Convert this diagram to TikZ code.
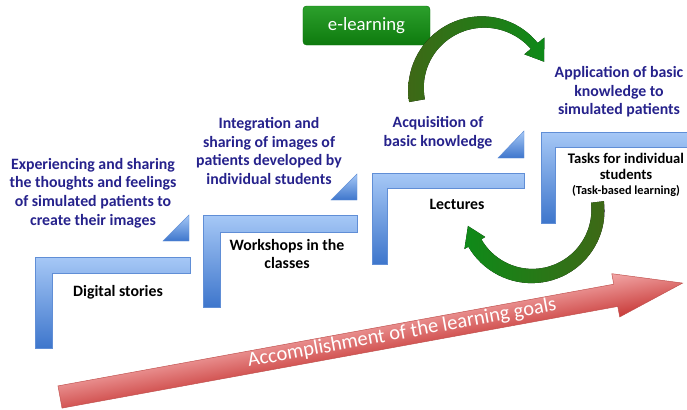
\documentclass[tikz,border=0pt]{standalone}
\usepackage{fontspec}
\setmainfont{Carlito}
\definecolor{stepblue}{RGB}{38,34,140}
\definecolor{barlight}{RGB}{166,200,246}
\definecolor{bardark}{RGB}{62,118,204}
\definecolor{baredge}{RGB}{96,142,214}
\definecolor{leafdark}{RGB}{62,104,22}
\definecolor{leaflight}{RGB}{14,138,24}
\definecolor{goalslight}{RGB}{242,166,166}
\definecolor{goalsdark}{RGB}{200,58,56}
\definecolor{goalsedge}{RGB}{192,80,77}
\definecolor{boxlight}{RGB}{44,160,44}
\definecolor{boxdark}{RGB}{14,122,14}
\tikzset{
  stair/.style={top color=barlight, bottom color=bardark, draw=baredge, line width=0.4pt},
  goaltext/.style={text=stepblue, font=\fontsize{13.5}{15.9}\selectfont\bfseries, align=center, inner sep=0pt},
  stagetext/.style={font=\fontsize{13.5}{14.9}\selectfont\bfseries, align=center, inner sep=0pt},
  elbox/.style={top color=boxlight, bottom color=boxdark, draw=boxdark, rounded corners=3pt,
    minimum width=3.81cm, minimum height=1.17cm, text=white, font=\fontsize{16}{16}\selectfont},
  leaf/.style={left color=leafdark, right color=leaflight}
}
\begin{document}
\begin{tikzpicture}[x=0.03cm,y=-0.03cm]
\useasboundingbox (0,0) rectangle (687,409);
\fill[white] (0,0) rectangle (687,409);

\path[stair] (35,257) -- (190,257) -- (190,273) -- (52,273) -- (52,348) -- (35,348) -- cycle;
\path[stair] (203,215) -- (357,215) -- (357,232) -- (220,232) -- (220,307) -- (203,307) -- cycle;
\path[stair] (372,173) -- (524,173) -- (524,188) -- (387,188) -- (387,264) -- (372,264) -- cycle;
\path[stair] (541,132) -- (695,132) -- (695,147) -- (555,147) -- (555,223) -- (541,223) -- cycle;
\path[stair] (189,215) -- (189,241) -- (163,241) -- cycle;
\path[stair] (357,174) -- (357,200) -- (331,200) -- cycle;
\path[stair] (524,131) -- (524,158) -- (498,158) -- cycle;

\node[goaltext] (feel) at (93,193) {Experiencing and sharing\\the thoughts and feelings\\of simulated patients to\\create their images};
\node[goaltext] (share) at (269,151) {Integration and\\sharing of images of\\patients developed by\\individual students};
\node[goaltext] (acquire) at (438,133) {Acquisition of\\basic knowledge};
\node[goaltext] (apply) at (619,92) {Application of basic\\knowledge to\\simulated patients};

\node[stagetext] (stories) at (118,292) {Digital stories};
\node[stagetext] (workshops) at (287,254) {Workshops in the\\classes};
\node[stagetext] (lectures) at (457,204) {Lectures};
\node[stagetext, font=\fontsize{12.5}{13.2}\selectfont\bfseries] (tasks) at (626,175)
  {Tasks for individual\\students\\{\fontsize{10.5}{13.2}\selectfont(Task-based learning)}};

\node[elbox] (elearn) at (366.5,25.5) {e-learning};

\fill[leaf] plot[domain=170:320,samples=40,variable=\t]
    ({483+(75-3.5*(\t-170)/150)*cos(\t)},{89+(75-3.5*(\t-170)/150)*sin(\t)})
  -- ({483+80*cos(320)},{89+80*sin(320)})
  -- ({483+67*cos(336)},{89+67*sin(336)})
  -- ({483+54*cos(320)},{89+54*sin(320)})
  -- plot[domain=320:170,samples=40,variable=\t]
    ({483+(59+3.5*(\t-170)/150)*cos(\t)},{89+(59+3.5*(\t-170)/150)*sin(\t)})
  -- cycle;
\fill[left color=leaflight, right color=leafdark] plot[domain=-7:150,samples=40,variable=\t]
    ({532+(72.5+1*(\t+7)/157)*cos(\t)},{210+(72.5+1*(\t+7)/157)*sin(\t)})
  -- ({532+78*cos(150)},{210+78*sin(150)})
  -- ({532+66*cos(166)},{210+66*sin(166)})
  -- ({532+54*cos(150)},{210+54*sin(150)})
  -- plot[domain=150:-7,samples=40,variable=\t]
    ({532+(59.5-1*(\t+7)/157)*cos(\t)},{210+(59.5-1*(\t+7)/157)*sin(\t)})
  -- cycle;

\begin{scope}[transform canvas={shift={(60,397)},rotate=10.37}]
\path[top color=goalslight, bottom color=goalsdark, draw=goalsedge]
  (0,-11.3) -- (565,-11.3) -- (565,-22) -- (633,0) -- (565,22) -- (565,11.3) -- (0,11.3) -- cycle;
\node[text=white, font=\fontsize{17.5}{17.5}\selectfont] (goals) at (348,-1)
  {Accomplishment of the learning goals};
\end{scope}
\end{tikzpicture}
\end{document}
